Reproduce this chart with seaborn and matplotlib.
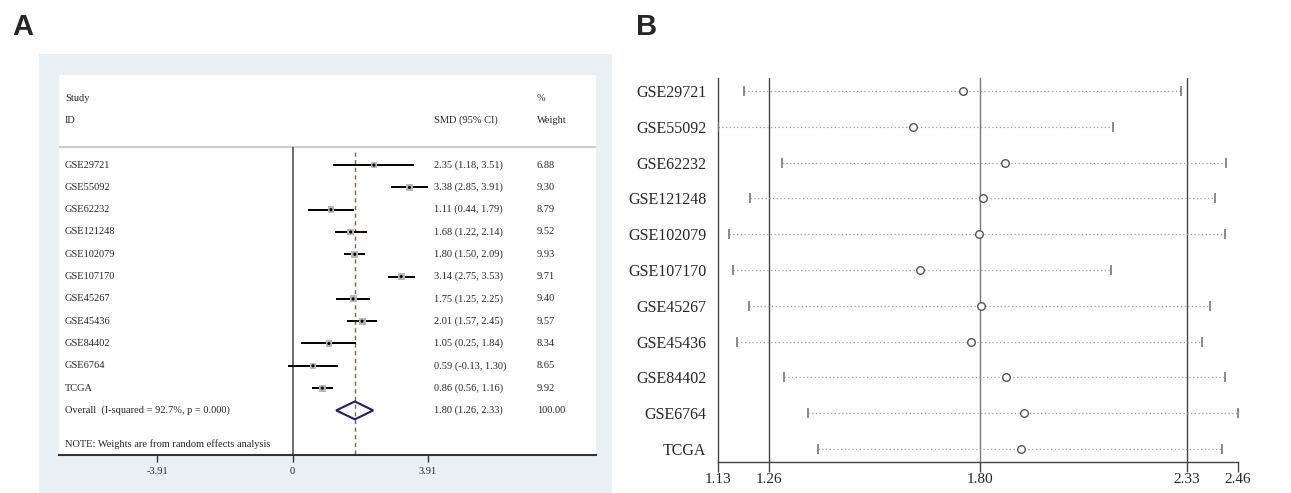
import numpy as np
import pandas as pd
import matplotlib
matplotlib.use('Agg')
import matplotlib.pyplot as plt
from matplotlib.patches import Polygon
import seaborn as sns

sns.set_style('white')
plt.rcParams['font.family'] = ['Liberation Serif', 'DejaVu Serif']

# ---------------- data ----------------
studies = ['GSE29721', 'GSE55092', 'GSE62232', 'GSE121248', 'GSE102079',
           'GSE107170', 'GSE45267', 'GSE45436', 'GSE84402', 'GSE6764', 'TCGA']

# panel A: forest plot
smd    = [2.35, 3.38, 1.11, 1.68, 1.80, 3.14, 1.75, 2.01, 1.05, 0.59, 0.86]
ci_lo  = [1.18, 2.85, 0.44, 1.22, 1.50, 2.75, 1.25, 1.57, 0.25, -0.13, 0.56]
ci_hi  = [3.51, 3.91, 1.79, 2.14, 2.09, 3.53, 2.25, 2.45, 1.84, 1.30, 1.16]
weight = [6.88, 9.30, 8.79, 9.52, 9.93, 9.71, 9.40, 9.57, 8.34, 8.65, 9.92]
overall_est, overall_lo, overall_hi = 1.80, 1.26, 2.33
overall_label = 'Overall  (I-squared = 92.7%, p = 0.000)'
forest_ticks = [-3.91, 0, 3.91]

# panel B: sensitivity analysis (study omitted)
omit_est = [1.756, 1.63, 1.863, 1.809, 1.797, 1.647, 1.802, 1.776, 1.867, 1.913, 1.904]
omit_lo  = [1.196, 1.13, 1.294, 1.213, 1.159, 1.169, 1.210, 1.178, 1.300, 1.360, 1.385]
omit_hi  = [2.314, 2.14, 2.429, 2.400, 2.427, 2.135, 2.389, 2.367, 2.426, 2.460, 2.418]
sens_ticks = [1.13, 1.26, 1.80, 2.33, 2.46]
sens_lines = [1.26, 1.80, 2.33]

dfA = pd.DataFrame({'study': studies, 'smd': smd, 'lo': ci_lo, 'hi': ci_hi,
                    'weight': weight, 'row': np.arange(len(studies))})
dfB = pd.DataFrame({'study': studies, 'est': omit_est, 'lo': omit_lo, 'hi': omit_hi,
                    'row': np.arange(len(studies))})

W, H = 1291, 493
fig = plt.figure(figsize=(W / 100, H / 100), dpi=100)

# ---------------- panel A ----------------
# light graph region behind the forest plot
bg = fig.add_axes([39 / W, 0, (612 - 39) / W, (493 - 54) / H], zorder=0)
bg.set_facecolor('#e9eff3')
bg.set_xticks([]); bg.set_yticks([])
for s in bg.spines.values():
    s.set_visible(False)

axA = fig.add_axes([59 / W, 38 / H, 537 / W, 380 / H], zorder=1)
axA.set_facecolor('white')
axA.set_xlim(-6.75, 8.77)
axA.set_ylim(13.0, -4.04)
for s in ['top', 'left', 'right']:
    axA.spines[s].set_visible(False)
axA.spines['bottom'].set_color('#333333')
axA.spines['bottom'].set_linewidth(1.5)

fsA = 7.5
xt, xsmd, xw = -6.58, 4.08, 7.06
axA.text(xt, -3, 'Study', fontsize=fsA, va='center')
axA.text(xt, -2, 'ID', fontsize=fsA, va='center')
axA.text(xsmd, -2, 'SMD (95% CI)', fontsize=fsA, va='center')
axA.text(xw, -3, '%', fontsize=fsA, va='center')
axA.text(xw, -2, 'Weight', fontsize=fsA, va='center')
axA.axhline(-0.8, color='#cccccc', lw=1.5)

axA.vlines(0, -0.8, 13.0, color='#555555', lw=1.2)
axA.vlines(overall_est, -0.6, 13.0, color='#a05050', lw=1.0, linestyle=(0, (3, 2.5)))

axA.hlines(dfA['row'], dfA['lo'], dfA['hi'], color='black', lw=1.4, zorder=3)
sns.scatterplot(data=dfA, x='smd', y='row', size='weight', sizes=(16, 26),
                size_norm=(6.5, 10), marker='s', color='#b8b8b8', edgecolor='none',
                legend=False, ax=axA, zorder=4)
sns.scatterplot(data=dfA, x='smd', y='row', marker='o', s=5, color='black',
                edgecolor='none', legend=False, ax=axA, zorder=5)

for r in dfA.itertuples():
    axA.text(xt, r.row, r.study, fontsize=fsA, va='center')
    axA.text(xsmd, r.row, f'{r.smd:.2f} ({r.lo:.2f}, {r.hi:.2f})', fontsize=fsA, va='center')
    axA.text(xw, r.row, f'{r.weight:.2f}', fontsize=fsA, va='center')

orow = len(studies)
axA.add_patch(Polygon([(overall_lo, orow), (overall_est, orow - 0.4),
                       (overall_hi, orow), (overall_est, orow + 0.4)],
                      closed=True, fill=False, edgecolor='#1c1c7a', lw=1.5, zorder=5))
axA.text(xt, orow, overall_label, fontsize=fsA, va='center')
axA.text(xsmd, orow, f'{overall_est:.2f} ({overall_lo:.2f}, {overall_hi:.2f})',
         fontsize=fsA, va='center')
axA.text(xw, orow, '100.00', fontsize=fsA, va='center')
axA.text(xt, 12.5, 'NOTE: Weights are from random effects analysis', fontsize=fsA, va='center')

axA.set_xticks(forest_ticks)
axA.set_xticklabels([f'{t:g}' for t in forest_ticks], fontsize=fsA)
axA.set_yticks([])
axA.tick_params(axis='x', bottom=True, length=5, width=1, color='#333333', pad=4)
axA.set_xlabel('')
axA.set_ylabel('')

# ---------------- panel B ----------------
axB = fig.add_axes([718 / W, 31 / H, 520 / W, 384 / H])
axB.set_xlim(sens_ticks[0], sens_ticks[-1])
axB.set_ylim(len(studies) - 1 + 0.36, -0.36)
for s in ['top', 'right']:
    axB.spines[s].set_visible(False)
for s in ['left', 'bottom']:
    axB.spines[s].set_color('#444444')
    axB.spines[s].set_linewidth(1.0)

for v in sens_lines:
    axB.axvline(v, color='#777777' if v == overall_est else '#444444', lw=1.0, zorder=1)

axB.hlines(dfB['row'], dfB['lo'], dfB['hi'], color='#999999', lw=0.9,
           linestyle=(0, (1, 2)), zorder=2)
sns.scatterplot(data=dfB, x='lo', y='row', marker='|', s=45, color='#777777',
                linewidth=1.2, legend=False, ax=axB, zorder=3)
sns.scatterplot(data=dfB, x='hi', y='row', marker='|', s=45, color='#777777',
                linewidth=1.2, legend=False, ax=axB, zorder=3)
sns.scatterplot(data=dfB, x='est', y='row', marker='o', s=30, facecolor='white',
                edgecolor='#555555', linewidth=1.0, legend=False, ax=axB, zorder=4)

axB.set_yticks(dfB['row'])
axB.set_yticklabels(studies, fontsize=11.5)
axB.set_xticks(sens_ticks)
axB.set_xticklabels([f'{t:.2f}' for t in sens_ticks], fontsize=11)
axB.tick_params(axis='y', left=False, pad=5)
axB.tick_params(axis='x', bottom=True, length=7, width=1, color='#444444', pad=1)
axB.set_xlabel('')
axB.set_ylabel('')

# panel letters
fig.text(12 / W, 1 - 27 / H, 'A', fontsize=21, fontweight='bold',
         family=['Liberation Sans', 'DejaVu Sans'], va='center', ha='left')
fig.text(636 / W, 1 - 27 / H, 'B', fontsize=21, fontweight='bold',
         family=['Liberation Sans', 'DejaVu Sans'], va='center', ha='left')

fig.savefig('out.png', dpi=100, facecolor='white')
